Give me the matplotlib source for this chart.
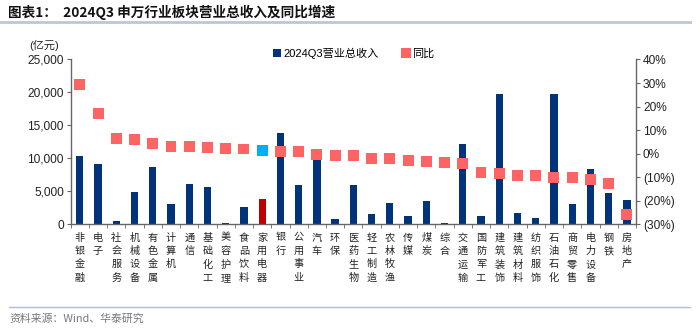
import matplotlib
matplotlib.use("Agg")
import matplotlib.pyplot as plt
from matplotlib.lines import Line2D
from matplotlib.patches import Patch
from matplotlib.ticker import FuncFormatter, FixedLocator
import numpy as np

plt.rcParams['font.family'] = ['Liberation Sans', 'Noto Sans CJK SC', 'DejaVu Sans']

categories = ["非银金融", "电子", "社会服务", "机械设备", "有色金属", "计算机", "通信", "基础化工",
              "美容护理", "食品饮料", "家用电器", "银行", "公用事业", "汽车", "环保", "医药生物",
              "轻工制造", "农林牧渔", "传媒", "煤炭", "综合", "交通运输", "国防军工", "建筑装饰",
              "建筑材料", "纺织服饰", "石油石化", "商贸零售", "电力设备", "钢铁", "房地产"]
revenue = [10300, 9200, 450, 4900, 8700, 3050, 6100, 5700, 200, 2600, 3800, 13900, 6000, 9700,
           800, 5900, 1500, 3300, 1200, 3500, 200, 12250, 1200, 19750, 1700, 1000, 19750, 3100,
           8450, 4700, 3650]
yoy = [29.4, 16.9, 6.5, 5.9, 4.3, 3.2, 3.1, 2.8, 2.4, 2.0, 1.5, 0.9, 0.8, -0.2, -0.6, -0.7,
       -1.9, -2.2, -3.0, -3.3, -3.9, -4.2, -7.8, -8.4, -9.1, -9.4, -10.1, -10.3, -10.8, -12.7, -25.9]
highlight = "家用电器"
left_ticks = [0, 5000, 10000, 15000, 20000, 25000]
right_ticks = [-30, -20, -10, 0, 10, 20, 30, 40]

navy = '#00337A'
salmon = '#FF6464'
cyan = '#00B0F0'
darkred = '#C00000'

fig = plt.figure(figsize=(7.0, 3.28), dpi=100)
ax = fig.add_axes([0.101, 0.316, 0.8076, 0.5026])
ax2 = ax.twinx()

x = np.arange(len(categories))
bar_colors = [darkred if c == highlight else navy for c in categories]
ax.bar(x, revenue, width=0.4, color=bar_colors, zorder=2)
mk_colors = [cyan if c == highlight else salmon for c in categories]
ax2.scatter(x, yoy, marker='s', s=62, c=mk_colors, zorder=3, linewidths=0)

ax.set_xlim(-0.5, len(categories) - 0.5)
ax.set_ylim(0, 25000)
ax2.set_ylim(-30, 40)
ax.set_yticks(left_ticks)
ax.yaxis.set_major_formatter(FuncFormatter(lambda v, p: f"{int(v):,}"))
ax2.set_yticks(right_ticks)
ax2.yaxis.set_major_formatter(FuncFormatter(lambda v, p: f"({abs(int(v))}%)" if v < 0 else f"{int(v)}%"))

ax.set_xticks(x)
ax.set_xticklabels(['\n'.join(c) for c in categories], family=['Noto Sans CJK SC'],
                   fontsize=7.3, linespacing=1.42, color='#222222')
ax.tick_params(axis='x', length=0, pad=6)
ax.xaxis.set_minor_locator(FixedLocator(np.arange(-0.5, len(categories), 1.0)))
ax.tick_params(axis='x', which='minor', length=3, color='#666666', direction='out')
ax.tick_params(axis='y', length=3, color='#666666', labelsize=8.6, labelcolor='#222222', pad=2)
ax2.tick_params(axis='y', length=3, color='#666666', labelsize=8.6, labelcolor='#222222', pad=2)

for a in (ax, ax2):
    a.spines['top'].set_visible(False)
    for s in ('left', 'right', 'bottom'):
        a.spines[s].set_color('#666666')
        a.spines[s].set_linewidth(1.0)
ax.spines['right'].set_visible(False)
ax2.spines['left'].set_visible(False)
ax2.spines['bottom'].set_visible(False)

fig.text(0.063, 0.862, "(亿元)", fontsize=8, color='#222222', ha='center', va='center',
         family=['Liberation Sans', 'Noto Sans CJK SC'])

handles = [Patch(facecolor=navy, edgecolor='none'),
           Line2D([], [], marker='s', linestyle='none', markersize=7, markerfacecolor=salmon,
                  markeredgewidth=0)]
leg = fig.legend(handles, ["2024Q3营业总收入", "同比"], loc='center', bbox_to_anchor=(0.505, 0.838),
                 ncol=2, frameon=False, handlelength=0.8, handleheight=0.8,
                 handletextpad=0.2, columnspacing=2.0,
                 prop={'family': ['Liberation Sans', 'Noto Sans CJK SC'], 'size': 8})

fig.text(0.011, 0.962, "图表1：  2024Q3 申万行业板块营业总收入及同比增速", fontsize=9.8, fontweight='bold',
         color='#111111', ha='left', va='center', family=['Noto Sans CJK SC'])
fig.add_artist(Line2D([0.0, 0.986], [0.933, 0.933], color='#B8C7DA', linewidth=2.0,
                      transform=fig.transFigure))
fig.add_artist(Line2D([0.013, 0.986], [0.065, 0.065], color='#A9BEDD', linewidth=1.0,
                      transform=fig.transFigure))
fig.text(0.014, 0.028, "资料来源：Wind、华泰研究", fontsize=7.8, color='#777777', ha='left', va='center',
         family=['Noto Sans CJK SC', 'Liberation Sans'])

fig.savefig("out.png", dpi=100)
